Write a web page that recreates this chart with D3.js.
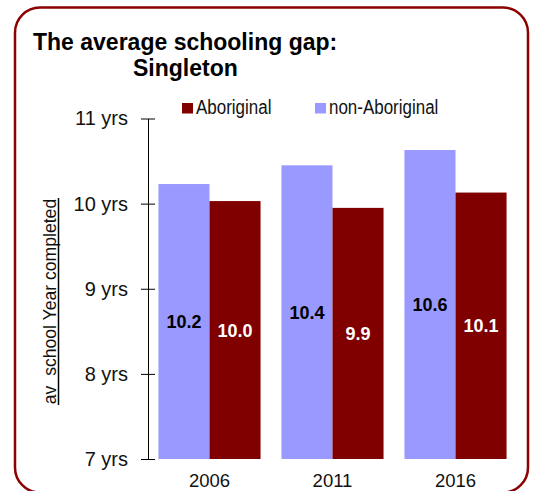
<!DOCTYPE html>
<html><head><meta charset="utf-8">
<script src="https://cdn.jsdelivr.net/npm/d3@7"></script>
<style>html,body{margin:0;padding:0;background:#fff;}svg{display:block;font-family:"Liberation Sans",Arial,sans-serif;}</style>
</head><body>
<script>
const years = ["2006","2011","2016"];
const nonAboriginal = [10.23, 10.45, 10.63];
const aboriginal = [10.03, 9.95, 10.13];
const valueLabelsNon = ["10.2","10.4","10.6"];
const valueLabelsAb = ["10.0","9.9","10.1"];
const yTicks = [7,8,9,10,11];
const seriesNames = ["non-Aboriginal","Aboriginal"];
const colors = {"non-Aboriginal":"#9999ff","Aboriginal":"#800000"};

const W=534,H=491;
const svg=d3.select("body").append("svg").attr("width",W).attr("height",H);

// frame
svg.append("rect").attr("x",15).attr("y",7.5).attr("width",513).attr("height",485)
  .attr("rx",25).attr("ry",25).attr("fill","none").attr("stroke","#8b0000").attr("stroke-width",2.5);

// title
svg.append("text").attr("x",33).attr("y",49.5).attr("font-size",23).attr("font-weight","bold").text("The average schooling gap:");
svg.append("text").attr("x",133).attr("y",76).attr("font-size",23).attr("font-weight","bold").text("Singleton");

const y=d3.scaleLinear().domain([7,11]).range([459,118.5]);
const x0=d3.scaleBand().domain(years).range([148,517]).paddingInner(0.17).paddingOuter(0.085);
const x1=d3.scaleBand().domain(seriesNames).range([0,x0.bandwidth()]);

// axis
const axis=d3.axisLeft(y).tickValues(yTicks).tickSizeInner(7).tickSizeOuter(0).tickFormat(d=>d+" yrs").tickPadding(13);
const ag=svg.append("g").attr("transform","translate(148,0)").call(axis);
ag.select(".domain").attr("stroke","#000");
ag.selectAll(".tick line").attr("x1",-7).attr("x2",7).attr("stroke","#000");
ag.selectAll(".tick text").attr("font-size",20).attr("font-family","Liberation Sans, Arial, sans-serif").attr("fill","#111");

// y title
const yt=svg.append("g").attr("transform","translate(56,301.5) rotate(-90)");
yt.append("text").attr("text-anchor","middle").attr("font-size",17.6).attr("fill","#111").attr("xml:space","preserve").text("av  school Year completed");
yt.append("line").attr("x1",-103.5).attr("x2",103.5).attr("y1",2.5).attr("y2",2.5).attr("stroke","#000").attr("stroke-width",1.5);

// bars
const rows=years.map((yr,i)=>({yr,vals:[
  {s:"non-Aboriginal",v:nonAboriginal[i],lab:valueLabelsNon[i]},
  {s:"Aboriginal",v:aboriginal[i],lab:valueLabelsAb[i]}]}));
const g=svg.selectAll("g.grp").data(rows).join("g").attr("class","grp").attr("transform",d=>`translate(${x0(d.yr)},0)`);
g.selectAll("rect").data(d=>d.vals).join("rect")
  .attr("x",d=>x1(d.s)).attr("width",x1.bandwidth())
  .attr("y",d=>y(d.v)).attr("height",d=>y(7)-y(d.v)).attr("fill",d=>colors[d.s]);
g.selectAll("text.val").data(d=>d.vals).join("text").attr("class","val")
  .attr("x",d=>x1(d.s)+x1.bandwidth()/2).attr("y",d=>(y(d.v)+y(7))/2).attr("dy","0.36em")
  .attr("text-anchor","middle").attr("font-size",18).attr("font-weight","bold")
  .attr("fill",d=>d.s==="Aboriginal"?"#fff":"#000").text(d=>d.lab);

// x labels
svg.selectAll("text.xl").data(years).join("text").attr("class","xl")
  .attr("x",d=>x0(d)+x0.bandwidth()/2).attr("y",487).attr("text-anchor","middle").attr("font-size",18.5).attr("fill","#111").text(d=>d);

// legend
const legend=[{s:"Aboriginal",x:182},{s:"non-Aboriginal",x:315}];
const lg=svg.selectAll("g.lg").data(legend).join("g").attr("class","lg").attr("transform",d=>`translate(${d.x},103)`);
lg.append("rect").attr("width",11).attr("height",10.5).attr("fill",d=>colors[d.s]);
lg.append("text").attr("transform","translate(14,11) scale(0.87,1)").attr("font-size",19.5).attr("fill","#111").text(d=>d.s);
</script>
</body></html>
